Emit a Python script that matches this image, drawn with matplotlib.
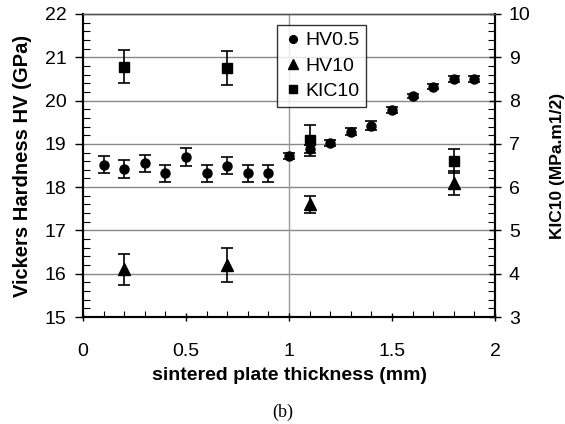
import matplotlib
matplotlib.use('Agg')
import matplotlib.pyplot as plt
from matplotlib.ticker import MultipleLocator

plt.rcParams['font.family'] = ['Liberation Sans', 'DejaVu Sans']

# HV0.5 (left axis, GPa)
hv05_x = [0.1, 0.2, 0.3, 0.4, 0.5, 0.6, 0.7, 0.8, 0.9, 1.0, 1.1, 1.2, 1.3, 1.4, 1.5, 1.6, 1.7, 1.8, 1.9]
hv05_y = [18.52, 18.42, 18.55, 18.32, 18.7, 18.32, 18.5, 18.32, 18.32, 18.72, 18.88, 19.02, 19.28, 19.42, 19.78, 20.1, 20.32, 20.5, 20.5]
hv05_err = [0.2, 0.2, 0.2, 0.2, 0.2, 0.2, 0.2, 0.2, 0.2, 0.08, 0.1, 0.08, 0.08, 0.1, 0.06, 0.05, 0.06, 0.06, 0.06]

# HV10 (left axis, GPa)
hv10_x = [0.2, 0.7, 1.1, 1.8]
hv10_y = [16.1, 16.2, 17.6, 18.1]
hv10_err = [0.35, 0.4, 0.2, 0.28]

# KIC10 (right axis, MPa.m1/2)
kic_x = [0.2, 0.7, 1.1, 1.8]
kic_y = [8.78, 8.75, 7.08, 6.6]
kic_err = [0.38, 0.4, 0.35, 0.27]

fig = plt.figure(figsize=(5.65, 4.24), dpi=100)
ax = fig.add_axes([83 / 565, 1 - 317 / 424, (495 - 83) / 565, (317 - 14) / 424])
ax2 = ax.twinx()

ax.set_xlim(0, 2)
ax.set_ylim(15, 22)
ax2.set_ylim(3, 10)

# grid lines
for yv in range(16, 22):
    ax.axhline(yv, color='#888888', lw=1.0, zorder=0)
ax.axvline(1.0, color='#999999', lw=1.0, zorder=0)

eb = dict(fmt='none', ecolor='black', elinewidth=1.2, capsize=4.5, capthick=1.2)
ax.errorbar(hv05_x, hv05_y, yerr=hv05_err, **eb)
ax.errorbar(hv10_x, hv10_y, yerr=hv10_err, **eb)
ax2.errorbar(kic_x, kic_y, yerr=kic_err, **eb)
h1, = ax.plot(hv05_x, hv05_y, 'o', color='black', ms=6.5, ls='none', label='HV0.5')
h2, = ax.plot(hv10_x, hv10_y, '^', color='black', ms=9, ls='none', label='HV10')
h3, = ax2.plot(kic_x, kic_y, 's', color='black', ms=7.5, ls='none', label='KIC10')

# ticks
ax.xaxis.set_major_locator(MultipleLocator(0.5))
ax.xaxis.set_minor_locator(MultipleLocator(0.1))
ax.yaxis.set_major_locator(MultipleLocator(1))
ax.yaxis.set_minor_locator(MultipleLocator(0.2))
ax2.yaxis.set_major_locator(MultipleLocator(1))
ax2.yaxis.set_minor_locator(MultipleLocator(0.2))
ax.xaxis.set_major_formatter(plt.FuncFormatter(lambda v, p: f'{v:g}'))

ax.tick_params(axis='x', which='major', direction='inout', length=6, width=1, labelsize=14, pad=16, top=False)
ax.tick_params(axis='x', which='minor', direction='in', length=4, width=0.8, top=False)
ax.tick_params(axis='y', which='major', direction='out', length=6, width=1, labelsize=14, pad=6)
ax.tick_params(axis='y', which='minor', direction='in', length=5, width=0.8)
ax2.tick_params(axis='y', which='major', direction='inout', length=8, width=1, labelsize=14, pad=6)
ax2.tick_params(axis='y', which='minor', direction='in', length=5, width=0.8)

for sp in ['left', 'bottom', 'right']:
    ax2.spines[sp].set_linewidth(1.5)
    ax.spines[sp].set_linewidth(1.5)
ax.spines['top'].set_color('#555555')
ax2.spines['top'].set_color('#555555')
ax.spines['top'].set_linewidth(1.0)
ax2.spines['top'].set_linewidth(1.0)

ax.set_xlabel('sintered plate thickness (mm)', fontsize=14, fontweight='bold', labelpad=5)
ax.set_ylabel('Vickers Hardness HV (GPa)', fontsize=14.5, fontweight='bold', labelpad=9)
ax2.set_ylabel('KIC10 (MPa.m1/2)', fontsize=12.5, fontweight='bold', labelpad=14)

leg = ax2.legend([h1, h2, h3], ['HV0.5', 'HV10', 'KIC10'], loc='upper left',
                 bbox_to_anchor=(277 / 565, 1 - 25 / 424), bbox_transform=fig.transFigure,
                 fontsize=14, frameon=True, fancybox=False, edgecolor='black',
                 handletextpad=0.2, handlelength=0.9, borderpad=0.35, labelspacing=0.4,
                 borderaxespad=0, markerscale=0.85)
leg.get_frame().set_linewidth(1.0)

fig.text(0.5, 1 - 412 / 424, '(b)', ha='center', va='center', fontsize=13,
         family=['Liberation Serif', 'DejaVu Serif'])

fig.savefig('out.png', dpi=100)
